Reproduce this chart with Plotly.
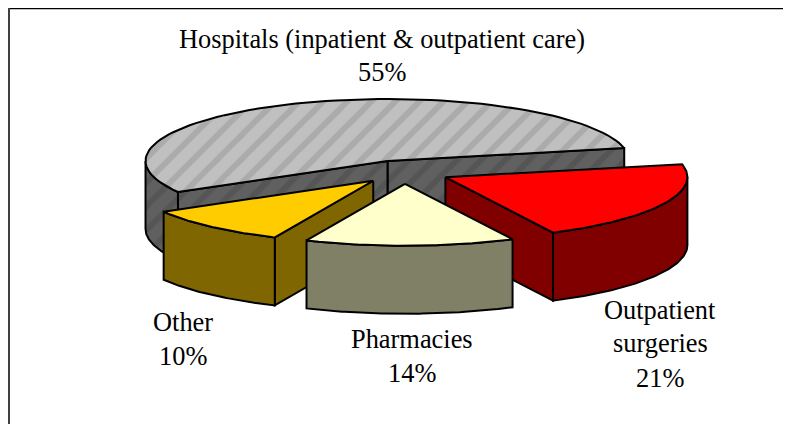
import numpy as np
import plotly.graph_objects as go

categories = ["Hospitals (inpatient & outpatient care)", "Outpatient surgeries", "Pharmacies", "Other"]
values = [55, 21, 14, 10]
top_colors = ["#c0c0c0", "#ff0000", "#ffffcc", "#ffcc00"]
side_colors = ["#606060", "#800000", "#808066", "#806600"]
hatch_fg_top = "#969696"
hatch_fg_side = "#4a4a4a"
label_lines = [["Hospitals (inpatient & outpatient care)", "55%"],
               ["Outpatient", "surgeries", "21%"],
               ["Pharmacies", "14%"],
               ["Other", "10%"]]
label_x = [382, 660, 412, 183]
label_y = [[39, 72], [310, 343, 378], [339, 373], [322, 356]]

# projection of the tilted pie onto the page (pixels)
CX, CY, RX, RY, DEPTH, EXPLODE = 404, 172, 242, 62, 68, 0.19
START = 150.0  # page angle (y down) where the first slice starts

fig = go.Figure()


def arc(c, a0, a1, n=80):
    t = np.radians(np.linspace(a0, a1, n))
    return c[0] + RX * np.cos(t), c[1] + RY * np.sin(t)


def poly(x, y, fill, pattern=None):
    x = np.append(x, x[0]); y = np.append(y, y[0])
    kw = {}
    if pattern:
        kw["fillpattern"] = dict(shape="/", bgcolor=fill, fgcolor=pattern, size=17, solidity=0.35)
    fig.add_trace(go.Scatter(x=x, y=y, mode="lines", fill="toself", fillcolor=fill,
                             line=dict(color="black", width=2), hoverinfo="skip",
                             showlegend=False, **kw))


def wall(xs, ys, fill, pattern=None):
    poly(np.concatenate([xs, xs[::-1]]), np.concatenate([ys, ys[::-1] + DEPTH]), fill, pattern)


total = sum(values)
spans = [v / total * 360 for v in values]
bounds = []
a = START
for s in spans:
    bounds.append((a, a + s))
    a += s

slices = []
for i, (a0, a1) in enumerate(bounds):
    mid = np.radians((a0 + a1) / 2)
    c = (CX + RX * EXPLODE * np.cos(mid), CY + RY * EXPLODE * np.sin(mid))
    slices.append((c, a0, a1))

draw_order = [0, 3, 1, 2]
for i in draw_order:
    c, a0, a1 = slices[i]
    pat_side = hatch_fg_side if i == 0 else None
    pat_top = hatch_fg_top if i == 0 else None
    if i == 0:
        for ang in (a1, a0):
            ex, ey = arc(c, ang, ang, 1)
            wall(np.array([c[0], ex[0]]), np.array([c[1], ey[0]]), side_colors[i], pat_side)
        ax, ay = arc(c, a0, 180)
        wall(ax, ay, side_colors[i], pat_side)
    else:
        if i == 3:
            ex, ey = arc(c, a0, a0, 1)
            wall(np.array([c[0], ex[0]]), np.array([c[1], ey[0]]), side_colors[i])
        if i == 1:
            ex, ey = arc(c, a1, a1, 1)
            wall(np.array([c[0], ex[0]]), np.array([c[1], ey[0]]), side_colors[i])
        lo, hi = (a0 - 360, a1 - 360) if a0 > 180 else (a0, a1)
        lo2, hi2 = max(lo, 0), min(hi, 180)
        ax, ay = arc(c, lo2, hi2)
        wall(ax, ay, side_colors[i])
    ax, ay = arc(c, a0, a1)
    poly(np.concatenate([[c[0]], ax]), np.concatenate([[c[1]], ay]), top_colors[i], pat_top)

for lines, x, ys in zip(label_lines, label_x, label_y):
    for line, y in zip(lines, ys):
        fig.add_annotation(x=x, y=y, text=line, showarrow=False, xanchor="center", yanchor="middle",
                           font=dict(family="Liberation Serif, Times New Roman, serif", size=26.4, color="black"))

# frame: top and left edges of the original picture
fig.add_shape(type="line", x0=8, x1=791, y0=8.5, y1=8.5, line=dict(color="black", width=1.5))
fig.add_shape(type="line", x0=9, x1=9, y0=8, y1=424, line=dict(color="#404040", width=2))

# the page keeps an 8px body margin, so the figure fills the window from (8, 8)
fig.update_layout(width=783, height=416, margin=dict(l=0, r=0, t=0, b=0),
                  paper_bgcolor="white", plot_bgcolor="white", showlegend=False,
                  xaxis=dict(range=[8, 791], visible=False, fixedrange=True),
                  yaxis=dict(range=[424, 8], visible=False, fixedrange=True))
fig.write_html("out.html", config={"displayModeBar": False})
